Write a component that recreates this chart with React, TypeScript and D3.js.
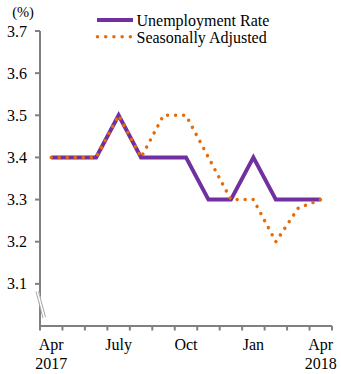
import React from "react";
import * as d3 from "d3";

const months = ["Apr", "May", "Jun", "July", "Aug", "Sep", "Oct", "Nov", "Dec", "Jan", "Feb", "Mar", "Apr2"];
const unemployment = [3.4, 3.4, 3.4, 3.5, 3.4, 3.4, 3.4, 3.3, 3.3, 3.4, 3.3, 3.3, 3.3];
const seasonal = [3.4, 3.4, 3.4, 3.5, 3.4, 3.5, 3.5, 3.4, 3.3, 3.3, 3.2, 3.28, 3.3];
const yTicks = [3.1, 3.2, 3.3, 3.4, 3.5, 3.6, 3.7];
const xLabels: { i: number; lines: string[] }[] = [
  { i: 0, lines: ["Apr", "2017"] },
  { i: 3, lines: ["July"] },
  { i: 6, lines: ["Oct"] },
  { i: 9, lines: ["Jan"] },
  { i: 12, lines: ["Apr", "2018"] },
];
const seriesNames = ["Unemployment Rate", "Seasonally Adjusted"];

const PURPLE = "#7030a0";
const ORANGE = "#e46c0a";
const AXIS = "#808080";
const FONT = "Liberation Serif";

export default function App() {
  const x = d3.scaleBand<string>().domain(months).range([40, 332]);
  const y = d3.scaleLinear().domain([3.0, 3.7]).range([326, 31]);
  const cx = (i: number) => (x(months[i]) as number) + x.bandwidth() / 2;
  const line = d3
    .line<number>()
    .x((_, i) => cx(i))
    .y((d) => y(d));
  const boundaries = months.map((m) => x(m) as number).concat([x.range()[1]]);

  return (
    <svg width={341} height={374} style={{ position: "absolute", left: 0, top: 0 }}>
      <rect width={341} height={374} fill="#fff" />
      {/* y axis */}
      <line x1={40} x2={40} y1={y(3.7)} y2={y(3.0)} stroke={AXIS} strokeWidth={2} />
      {yTicks.map((t) => (
        <g key={t}>
          <line x1={35} x2={40} y1={y(t)} y2={y(t)} stroke={AXIS} strokeWidth={2} />
          <text x={27} y={y(t)} dy="0.35em" textAnchor="end" fontSize={16} fontFamily={FONT} fill="#000">
            {t.toFixed(1)}
          </text>
        </g>
      ))}
      <text x={23} y={17} textAnchor="middle" fontSize={14.5} fontFamily={FONT} fill="#000">(%)</text>
      {/* axis break */}
      <polygon points="36.5,291.5 39,291.5 45.5,317 43,318" fill="#fff" />
      <line x1={36} y1={291.5} x2={43} y2={318} stroke="#a6a6a6" strokeWidth={1} />
      <line x1={38.5} y1={291.5} x2={45.5} y2={317} stroke="#a6a6a6" strokeWidth={1} />
      {/* x axis */}
      <line x1={39} x2={x.range()[1]} y1={326} y2={326} stroke={AXIS} strokeWidth={2} />
      {boundaries.map((b, i) => (
        <line key={i} x1={b} x2={b} y1={326} y2={330.5} stroke={AXIS} strokeWidth={2} />
      ))}
      {xLabels.map((l) => (
        <text key={l.i} x={cx(l.i)} y={350} textAnchor="middle" fontSize={16} fontFamily={FONT} fill="#000">
          {l.lines.map((s, k) => (
            <tspan key={k} x={cx(l.i)} dy={k === 0 ? 0 : 19}>
              {s}
            </tspan>
          ))}
        </text>
      ))}
      {/* series */}
      <path d={line(unemployment) || ""} fill="none" stroke={PURPLE} strokeWidth={4} strokeLinejoin="miter" />
      <path
        d={line(seasonal) || ""}
        fill="none"
        stroke={ORANGE}
        strokeWidth={3.5}
        strokeDasharray="0.01 8"
        strokeLinecap="round"
      />
      {/* legend */}
      <line x1={97} x2={133} y1={20} y2={20} stroke={PURPLE} strokeWidth={4} />
      <text x={136.5} y={26} fontSize={16} fontFamily={FONT} fill="#000">{seriesNames[0]}</text>
      <line x1={97.5} x2={130.5} y1={36.7} y2={36.7} stroke={ORANGE} strokeWidth={3.5} strokeDasharray="0.01 8.2" strokeLinecap="round" />
      <text x={136.5} y={42.5} fontSize={16} fontFamily={FONT} fill="#000">{seriesNames[1]}</text>
    </svg>
  );
}
